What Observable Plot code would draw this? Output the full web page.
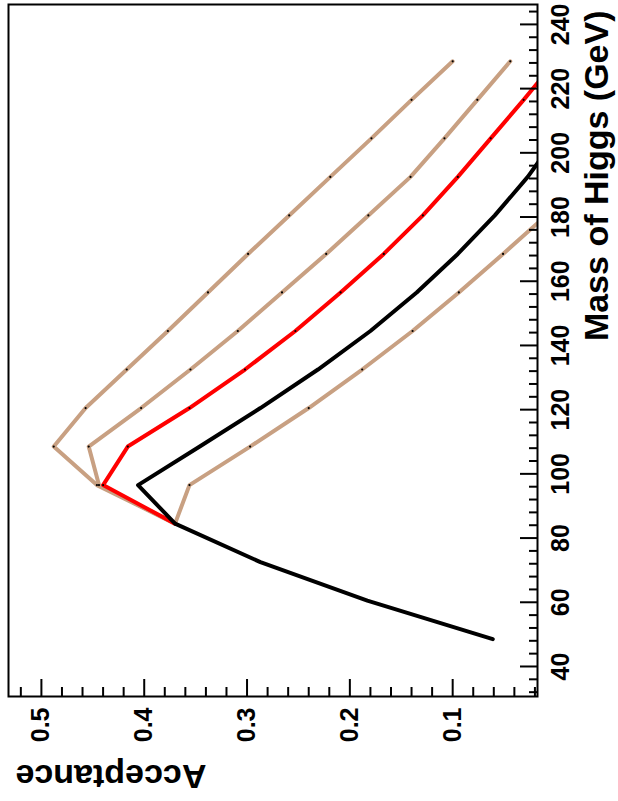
<!DOCTYPE html>
<html>
<head>
<meta charset="utf-8">
<script src="https://cdn.jsdelivr.net/npm/d3@7"></script>
<script src="https://cdn.jsdelivr.net/npm/@observablehq/plot@0.6"></script>
<style>
  html, body { margin: 0; padding: 0; background: #fff; }
  #wrap { position: relative; width: 618px; height: 801px; overflow: hidden; }
  #chart { position: absolute; left: 0; top: 0; width: 801px; height: 618px; transform-origin: 0 0; transform: translate(0px, 801px) rotate(-90deg); }
  #chart svg { max-width: none !important; width: 801px !important; height: 618px !important; display: block; }
</style>
</head>
<body>
<div id="wrap"><div id="chart"></div></div>
<script>
// Mass points (GeV)
const massBlack = [48.5, 60.5, 72.5, 84.5, 96.5, 108.5, 120.5, 132.5, 144.5, 156.5, 168.5, 180.5, 192.5, 204.5];
const accBlack  = [0.061, 0.183, 0.287, 0.370, 0.406, 0.346, 0.287, 0.231, 0.180, 0.135, 0.095, 0.059, 0.027, 0.000];

const massBand  = [84.5, 96.5, 108.5, 120.5, 132.5, 144.5, 156.5, 168.5, 180.5, 192.5, 204.5, 216.5, 228.5];
const accRed    = [0.370, 0.440, 0.416, 0.356, 0.302, 0.253, 0.209, 0.167, 0.129, 0.095, 0.063, 0.031, 0.000];
const accUpper1 = [0.370, 0.446, 0.488, 0.457, 0.417, 0.377, 0.338, 0.299, 0.259, 0.219, 0.179, 0.140, 0.100];
const accUpper2 = [0.370, 0.444, 0.454, 0.403, 0.355, 0.309, 0.266, 0.223, 0.182, 0.141, 0.108, 0.076, 0.044];
const accLower  = [0.370, 0.356, 0.297, 0.240, 0.188, 0.139, 0.094, 0.051, 0.009];

const massMajor = [40, 60, 80, 100, 120, 140, 160, 180, 200, 220, 240];
const massMinor = [32, 36, 44, 48, 52, 56, 64, 68, 72, 76, 84, 88, 92, 96, 104, 108, 112, 116, 124, 128, 132, 136, 144, 148, 152, 156, 164, 168, 172, 176, 184, 188, 192, 196, 204, 208, 212, 216, 224, 228, 232, 236, 244];
const accMajor = [0.1, 0.2, 0.3, 0.4, 0.5];
const accMinor = [0.02, 0.04, 0.06, 0.08, 0.12, 0.14, 0.16, 0.18, 0.22, 0.24, 0.26, 0.28, 0.32, 0.34, 0.36, 0.38, 0.42, 0.44, 0.46, 0.48, 0.52];

const xLabel = "Mass of Higgs (GeV)";
const yLabel = "Acceptance";

const brown = "#c8a082";
const toRows = (ms, as) => ms.map((m, i) => ({m, a: as[i]}));
const black = toRows(massBlack, accBlack);
const red = toRows(massBand, accRed);
const up1 = toRows(massBand, accUpper1);
const up2 = toRows(massBand, accUpper2);
const low = toRows(massBand.slice(0, accLower.length), accLower);

const W = 801, H = 618;
const mL = 104, mR = 5, mT = 8, mB = 81;
const innerW = W - mL - mR, innerH = H - mT - mB;

const font = "'Liberation Sans', Arial, Helvetica, sans-serif";

const lineOpts = (color) => ({x: "m", y: "a", stroke: color, strokeWidth: 4, clip: true});
const dotOpts = {x: "m", y: "a", r: 1.1, fill: "black", clip: true};

const chart = Plot.plot({
  width: W,
  height: H,
  marginLeft: mL,
  marginRight: mR,
  marginTop: mT,
  marginBottom: mB,
  style: {fontFamily: font, background: "white", color: "black"},
  x: {domain: [30.65, 246.2]},
  y: {domain: [0.0175, 0.532]},
  marks: [
    Plot.line(up1, lineOpts(brown)),
    Plot.line(up2, lineOpts(brown)),
    Plot.line(low, lineOpts(brown)),
    Plot.line(red, lineOpts("#ff0000")),
    Plot.dot(up1, dotOpts),
    Plot.dot(up2, dotOpts),
    Plot.dot(low, dotOpts),
    Plot.dot(red, dotOpts),
    Plot.line(black, lineOpts("black")),
    // ticks drawn inward from the axes
    Plot.tickX(massMajor, {x: d => d, stroke: "black", strokeWidth: 2, insetTop: innerH - 17}),
    Plot.tickX(massMinor, {x: d => d, stroke: "black", strokeWidth: 2, insetTop: innerH - 8}),
    Plot.tickY(accMajor, {y: d => d, stroke: "black", strokeWidth: 2, insetRight: innerW - 18}),
    Plot.tickY(accMinor, {y: d => d, stroke: "black", strokeWidth: 2, insetRight: innerW - 10}),
    Plot.frame({stroke: "black", strokeWidth: 2}),
    Plot.axisX(massMajor, {anchor: "bottom", tickSize: 0, tickPadding: 14, fontSize: 25, fontWeight: "bold", label: null}),
    Plot.axisY(accMajor, {anchor: "left", tickSize: 0, tickPadding: 11, fontSize: 25, fontWeight: "bold", label: null, tickFormat: d => d.toFixed(1)}),
    Plot.text([xLabel], {frameAnchor: "bottom-right", text: d => d, textAnchor: "end", lineAnchor: "bottom", dx: -6, dy: 70, fontSize: 34, fontWeight: "bold"}),
    Plot.text([yLabel], {frameAnchor: "top-left", text: d => d, rotate: -90, textAnchor: "end", lineAnchor: "bottom", dx: -68, dy: 7, fontSize: 34, fontWeight: "bold"})
  ]
});
document.getElementById("chart").appendChild(chart);
</script>
</body>
</html>
